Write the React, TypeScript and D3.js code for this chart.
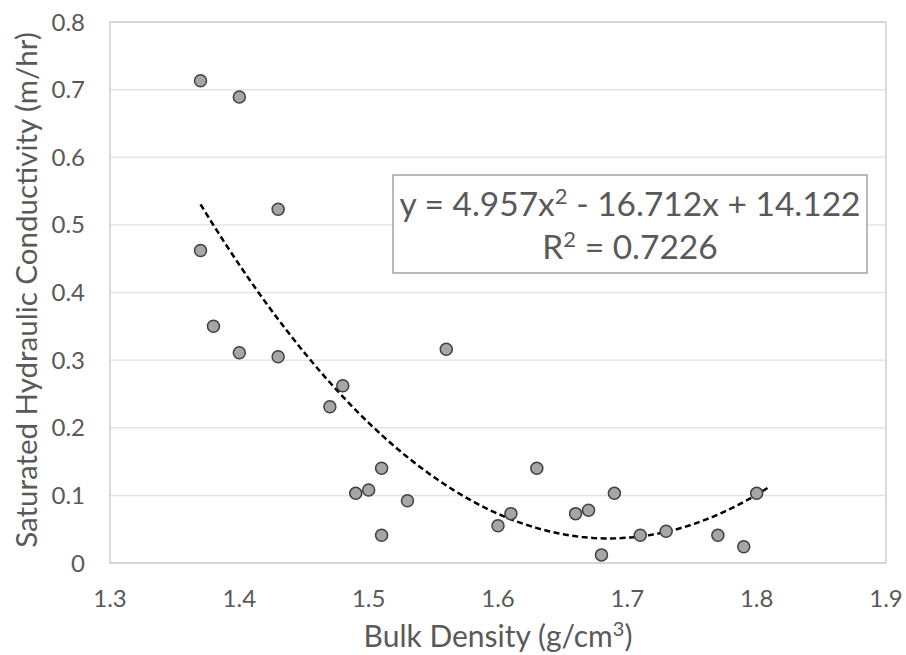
import React from "react";
import * as d3 from "d3";

const bulkDensity = [1.37, 1.40, 1.43, 1.37, 1.38, 1.40, 1.43, 1.48, 1.47, 1.51, 1.49, 1.50, 1.51, 1.53, 1.56, 1.60, 1.61, 1.63, 1.66, 1.67, 1.68, 1.69, 1.71, 1.73, 1.77, 1.79, 1.80];
const conductivity = [0.713, 0.689, 0.523, 0.462, 0.350, 0.311, 0.305, 0.262, 0.231, 0.140, 0.103, 0.108, 0.041, 0.092, 0.316, 0.055, 0.073, 0.140, 0.073, 0.078, 0.012, 0.103, 0.041, 0.047, 0.041, 0.024, 0.103];
const xTicks = [1.3, 1.4, 1.5, 1.6, 1.7, 1.8, 1.9];
const yTicks = [0, 0.1, 0.2, 0.3, 0.4, 0.5, 0.6, 0.7, 0.8];
const trendCoef = [4.957, -16.712, 14.122];
const trendRange = [1.37, 1.81];

const FONT = "Lato, 'Open Sans', sans-serif";

export default function App() {
  const W = 906, H = 655;
  const x = d3.scaleLinear().domain([1.3, 1.9]).range([110, 886]);
  const y = d3.scaleLinear().domain([0, 0.8]).range([563, 22]);
  const f = (v: number) => trendCoef[0] * v * v + trendCoef[1] * v + trendCoef[2];
  const trendPts: [number, number][] = d3.range(0, 101).map((i) => {
    const v = trendRange[0] + (trendRange[1] - trendRange[0]) * (i / 100);
    return [v, f(v)];
  });
  const line = d3.line<[number, number]>().x((d) => x(d[0])).y((d) => y(d[1]));
  const pts = bulkDensity.map((b, i) => [b, conductivity[i]] as [number, number]);
  return (
    <svg width={W} height={H} style={{ position: "absolute", left: 0, top: 0, background: "#fff" }}>
      {yTicks.map((t) => (
        <line key={"g" + t} x1={110} x2={886} y1={y(t)} y2={y(t)} stroke="#e4e4e4" strokeWidth={1.5} />
      ))}
      <rect x={110} y={22} width={776} height={541} fill="none" stroke="#cfcfcf" strokeWidth={1.5} />
      {yTicks.map((t) => (
        <text key={"y" + t} x={85} y={y(t) + 8.5} textAnchor="end" fontFamily={FONT} fontSize={24} fill="#595959">
          {t === 0 ? "0" : d3.format(".1f")(t)}
        </text>
      ))}
      {xTicks.map((t) => (
        <text key={"x" + t} x={x(t)} y={607} textAnchor="middle" fontFamily={FONT} fontSize={24} fill="#595959">
          {d3.format(".1f")(t)}
        </text>
      ))}
      <text x={498} y={647} textAnchor="middle" fontFamily={FONT} fontSize={30} fill="#595959">
        Bulk Density (g/cm<tspan dy={-11} fontSize={20}>3</tspan><tspan dy={11}>)</tspan>
      </text>
      <text transform={`translate(37,${290}) rotate(-90)`} textAnchor="middle" fontFamily={FONT} fontSize={29.5} fill="#595959">
        Saturated Hydraulic Conductivity (m/hr)
      </text>
      <path d={line(trendPts) || ""} fill="none" stroke="#000" strokeWidth={2.5} strokeDasharray="6,3.5" />
      {pts.map((p, i) => (
        <circle key={i} cx={x(p[0])} cy={y(p[1])} r={6} fill="#a6a6a6" stroke="#404040" strokeWidth={1.5} />
      ))}
      <rect x={393} y={175} width={474} height={98} fill="#fff" stroke="#8c8c8c" strokeWidth={1.2} />
      <text x={630} y={216} textAnchor="middle" fontFamily={FONT} fontSize={33.5} fill="#595959">
        y = 4.957x<tspan dy={-12} fontSize={22}>2</tspan><tspan dy={12}> - 16.712x + 14.122</tspan>
      </text>
      <text x={630} y={259} textAnchor="middle" fontFamily={FONT} fontSize={33.5} fill="#595959">
        R<tspan dy={-12} fontSize={22}>2</tspan><tspan dy={12}> = 0.7226</tspan>
      </text>
    </svg>
  );
}
